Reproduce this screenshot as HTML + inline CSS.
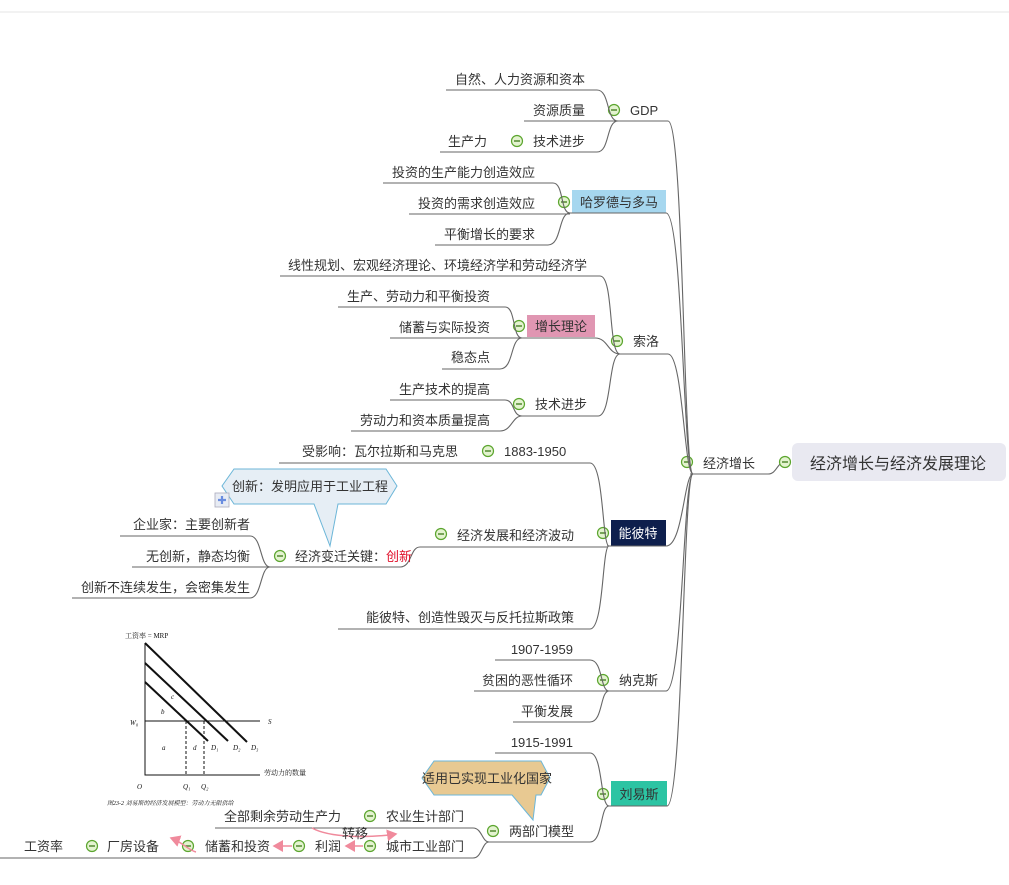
<!DOCTYPE html>
<html><head><meta charset="utf-8">
<style>
html,body{margin:0;padding:0;background:#fff;}
svg{display:block;}
text{font-family:"Liberation Sans","Noto Sans CJK SC",sans-serif;fill:#333;font-size:13px;}
.l{fill:none;stroke:#666;stroke-width:1.1;}
.sm{font-size:7px;font-style:italic;font-family:"Liberation Serif","Noto Serif CJK SC",serif;fill:#111;}
</style></head><body>
<svg width="1009" height="885" viewBox="0 0 1009 885" xmlns="http://www.w3.org/2000/svg">
<defs>
<g id="c"><circle r="5.5" fill="#e3f3cf" stroke="#5ba52e" stroke-width="1.2"/><line x1="-3" y1="0" x2="3" y2="0" stroke="#3d7a1a" stroke-width="1.3"/></g>
<marker id="ar" markerWidth="8" markerHeight="8" refX="6" refY="4" orient="auto"><path d="M0,0 L7,4 L0,8 z" fill="#f08a9c"/></marker>
</defs>
<line x1="0" y1="12" x2="1009" y2="12" stroke="#e6e6e6"/>

<!-- root -->
<rect x="792" y="443" width="214" height="38" rx="6" fill="#e9e9f1"/>
<text x="898" y="469" text-anchor="middle" style="font-size:16px">经济增长与经济发展理论</text>
<path class="l" d="M690,474 L768,474 C777,474 777,462 785,462"/>
<use href="#c" x="785" y="462"/>
<text x="703" y="468">经济增长</text>
<use href="#c" x="687" y="462"/>

<!-- spine -->
<path class="l" d="M668,121 C684,121 683,474 693,474"/>
<path class="l" d="M666,213 C683,213 683,474 693,474"/>
<path class="l" d="M668,354 C683,354 684,474 693,474"/>
<path class="l" d="M666,546 C683,546 684,474 693,474"/>
<path class="l" d="M666,691 C683,691 683,474 693,474"/>
<path class="l" d="M667,806 C683,806 683,474 693,474"/>

<!-- GDP -->
<path class="l" d="M618,121 L668,121"/>
<text x="630" y="115">GDP</text><use href="#c" x="614" y="110"/>
<path class="l" d="M446,90 L597,90 C610,90 606,121 618,121"/>
<text x="585" y="84" text-anchor="end">自然、人力资源和资本</text>
<path class="l" d="M524,121 L618,121"/>
<text x="585" y="115" text-anchor="end">资源质量</text>
<path class="l" d="M440,152 L597,152 C610,152 606,121 618,121"/>
<text x="585" y="146" text-anchor="end">技术进步</text><use href="#c" x="517" y="141"/>
<text x="487" y="146" text-anchor="end">生产力</text>

<!-- Harrod -->
<rect x="572" y="190" width="94" height="23" fill="#a6d7ef"/>
<text x="619" y="207" text-anchor="middle">哈罗德与多马</text>
<use href="#c" x="564" y="202"/>
<path class="l" d="M383,183 L553,183 C564,183 560,213 570,213 L666,213"/>
<text x="535" y="177" text-anchor="end">投资的生产能力创造效应</text>
<path class="l" d="M409,214 L570,214"/>
<text x="535" y="208" text-anchor="end">投资的需求创造效应</text>
<path class="l" d="M435,245 L548,245 C562,245 558,213 570,213"/>
<text x="535" y="239" text-anchor="end">平衡增长的要求</text>

<!-- Solow -->
<path class="l" d="M620,354 L668,354"/>
<text x="633" y="346">索洛</text><use href="#c" x="617" y="341"/>
<path class="l" d="M280,276 L600,276 C614,276 608,354 620,354"/>
<text x="587" y="270" text-anchor="end">线性规划、宏观经济理论、环境经济学和劳动经济学</text>
<rect x="527" y="315" width="68" height="22" fill="#e096b2"/>
<text x="561" y="331" text-anchor="middle">增长理论</text>
<path class="l" d="M595,338 C608,338 608,354 620,354"/>
<use href="#c" x="519" y="326"/>
<path class="l" d="M338,307 L505,307 C516,307 512,338 522,338 L595,338"/>
<text x="490" y="301" text-anchor="end">生产、劳动力和平衡投资</text>
<path class="l" d="M390,338 L522,338"/>
<text x="490" y="332" text-anchor="end">储蓄与实际投资</text>
<path class="l" d="M442,369 L500,369 C514,369 510,338 522,338"/>
<text x="490" y="362" text-anchor="end">稳态点</text>
<path class="l" d="M522,416 L598,416 C612,416 608,354 620,354"/>
<text x="535" y="409">技术进步</text><use href="#c" x="519" y="404"/>
<path class="l" d="M390,400 L505,400 C515,400 512,416 522,416"/>
<text x="490" y="394" text-anchor="end">生产技术的提高</text>
<path class="l" d="M351,431 L500,431 C512,431 512,416 522,416"/>
<text x="490" y="425" text-anchor="end">劳动力和资本质量提高</text>

<!-- Schumpeter -->
<rect x="611" y="520" width="55" height="26" fill="#0e1f4d"/>
<text x="638" y="538" text-anchor="middle" style="fill:#fff">能彼特</text>
<use href="#c" x="603" y="533"/>
<path class="l" d="M607,546 L666,546"/>
<path class="l" d="M279,463 L590,463 C604,463 602,546 609,546"/>
<text x="504" y="456">1883-1950</text><use href="#c" x="488" y="451"/>
<text x="458" y="456" text-anchor="end">受影响：瓦尔拉斯和马克思</text>
<path class="l" d="M420,547 L607,547"/>
<text x="457" y="540">经济发展和经济波动</text><use href="#c" x="441" y="534"/>
<path class="l" d="M270,567 L400,567 C412,567 410,547 420,547"/>
<text x="295" y="561">经济变迁关键：<tspan style="fill:#e0102a">创新</tspan></text>
<use href="#c" x="280" y="556"/>
<path class="l" d="M120,536 L250,536 C262,536 260,567 270,567"/>
<text x="250" y="529" text-anchor="end">企业家：主要创新者</text>
<path class="l" d="M132,567 L270,567"/>
<text x="250" y="561" text-anchor="end">无创新，静态均衡</text>
<path class="l" d="M72,598 L250,598 C262,598 260,567 270,567"/>
<text x="250" y="592" text-anchor="end">创新不连续发生，会密集发生</text>
<path class="l" d="M338,629 L590,629 C604,629 602,546 609,546"/>
<text x="574" y="622" text-anchor="end">能彼特、创造性毁灭与反托拉斯政策</text>
<!-- callout -->
<path d="M234,469 L386,469 L397,486 L386,504 L338,504 L330,546 L314,504 L234,504 L222,486 Z" fill="#e6eef5" stroke="#6cb6d8" stroke-width="1"/>
<text x="310" y="491" text-anchor="middle">创新：发明应用于工业工程</text>
<rect x="215" y="493" width="14" height="14" fill="#e8ecf4" stroke="#aab" stroke-width="0.8"/>
<path d="M222,496 V504 M218,500 H226" stroke="#6a8de0" stroke-width="2.2"/>

<!-- Nurkse -->
<path class="l" d="M607,691 L666,691"/>
<text x="619" y="685">纳克斯</text><use href="#c" x="603" y="680"/>
<path class="l" d="M495,660 L590,660 C603,660 600,691 609,691"/>
<text x="573" y="654" text-anchor="end">1907-1959</text>
<path class="l" d="M474,691 L607,691"/>
<text x="573" y="685" text-anchor="end">贫困的恶性循环</text>
<path class="l" d="M513,722 L590,722 C603,722 600,691 609,691"/>
<text x="573" y="716" text-anchor="end">平衡发展</text>

<!-- Lewis -->
<rect x="611" y="781" width="56" height="25" fill="#2cc4a3"/>
<text x="639" y="799" text-anchor="middle">刘易斯</text>
<use href="#c" x="603" y="794"/>
<path class="l" d="M607,806 L667,806"/>
<path class="l" d="M495,753 L590,753 C603,753 600,806 609,806"/>
<text x="573" y="747" text-anchor="end">1915-1991</text>
<path class="l" d="M487,842 L590,842 C603,842 600,806 609,806"/>
<text x="509" y="836">两部门模型</text><use href="#c" x="493" y="831"/>
<path class="l" d="M215,828 L473,828 C482,828 482,842 489,842"/>
<path class="l" d="M0,858 L473,858 C482,858 482,842 489,842"/>
<text x="341" y="821" text-anchor="end">全部剩余劳动生产力</text><use href="#c" x="370" y="816"/>
<text x="386" y="821">农业生计部门</text>
<text x="24" y="851">工资率</text><use href="#c" x="92" y="846"/>
<text x="107" y="851">厂房设备</text><use href="#c" x="188" y="846"/>
<text x="205" y="851">储蓄和投资</text><use href="#c" x="299" y="846"/>
<text x="315" y="851">利润</text><use href="#c" x="370" y="846"/>
<text x="386" y="851">城市工业部门</text>
<g stroke="#f08a9c" stroke-width="1.5" fill="none">
<path d="M363,846 L346,846" marker-end="url(#ar)"/>
<path d="M292,846 L274,846" marker-end="url(#ar)"/>
<path d="M196,852 C188,850 182,842 171,838" marker-end="url(#ar)"/>
<path d="M312,828 C330,838 370,838 396,834" marker-end="url(#ar)"/>
</g>
<text x="342" y="838">转移</text>
<path d="M434,761 L541,761 L550,778 L541,795 L536,795 L533,820 L512,795 L434,795 L422,778 Z" fill="#e8c992" stroke="#6cb6d8" stroke-width="1"/>
<text x="487" y="783" text-anchor="middle">适用已实现工业化国家</text>

<!-- chart -->
<g stroke="#111" fill="none">
<path d="M145,643 V775 H260" stroke-width="1"/>
<path d="M145,643 L247,742" stroke-width="2"/>
<path d="M145,663 L228,741" stroke-width="2"/>
<path d="M145,682 L208,741" stroke-width="2"/>
<path d="M145,721 H260" stroke-width="1"/>
<path d="M186,721 V775 M204,721 V775" stroke-dasharray="3,2" stroke-width="1"/>
</g>
<text x="125" y="638" class="sm" style="font-style:normal">工资率 = MRP</text>
<text x="130" y="725" class="sm">W₀</text>
<text x="268" y="724" class="sm">S</text>
<text x="161" y="714" class="sm">b</text>
<text x="171" y="699" class="sm">c</text>
<text x="162" y="750" class="sm">a</text>
<text x="193" y="750" class="sm">d</text>
<text x="211" y="750" class="sm">D₁</text>
<text x="233" y="750" class="sm">D₂</text>
<text x="251" y="750" class="sm">D₃</text>
<text x="137" y="789" class="sm">O</text>
<text x="183" y="789" class="sm">Q₁</text>
<text x="201" y="789" class="sm">Q₂</text>
<text x="264" y="775" class="sm" style="font-style:normal">劳动力的数量</text>
<text x="107" y="805" class="sm" style="font-size:6px">图23-2  刘易斯的经济发展模型：劳动力无限供给</text>
</svg>
</body></html>
